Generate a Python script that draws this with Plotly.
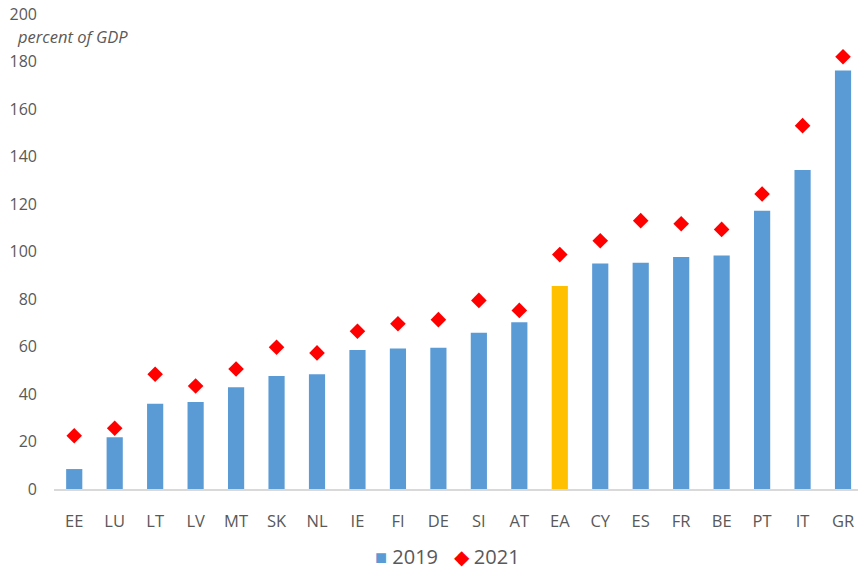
import plotly.graph_objects as go

countries = ["EE", "LU", "LT", "LV", "MT", "SK", "NL", "IE", "FI", "DE",
             "SI", "AT", "EA", "CY", "ES", "FR", "BE", "PT", "IT", "GR"]
debt_2019 = [8.4, 21.8, 35.9, 36.6, 42.8, 47.6, 48.3, 58.5, 59.2, 59.5,
             65.8, 70.2, 85.5, 95.0, 95.3, 97.7, 98.3, 117.2, 134.3, 176.2]
debt_2021 = [22.4, 25.6, 48.3, 43.4, 50.5, 59.7, 57.3, 66.4, 69.6, 71.3,
             79.4, 75.2, 98.7, 104.5, 113.0, 111.7, 109.3, 124.2, 153.0, 182.0]
y_ticks = [0, 20, 40, 60, 80, 100, 120, 140, 160, 180, 200]
series_names = ["2019", "2021"]

BLUE = "#5B9BD5"
GOLD = "#FFC000"
RED = "#FF0000"
TXT = "#595959"
FONT = "'Open Sans', Lato, sans-serif"

bar_colors = [GOLD if c == "EA" else BLUE for c in countries]

fig = go.Figure()
fig.add_trace(go.Bar(x=countries, y=debt_2019, name=series_names[0],
                     marker=dict(color=bar_colors, line=dict(width=0)),
                     showlegend=False))
fig.add_trace(go.Scatter(x=countries, y=debt_2021, name=series_names[1], mode="markers",
                         marker=dict(symbol="diamond", color=RED, size=12,
                                     line=dict(width=0)),
                         showlegend=False))

W_FIG, H_FIG = 858, 570
ML, MT = 54, 14
W_PLOT = W_FIG - ML
H_PLOT = 475

fig.update_layout(
    width=W_FIG, height=H_FIG,
    margin=dict(l=ML, r=0, t=MT, b=H_FIG - MT - H_PLOT, autoexpand=False),
    paper_bgcolor="white", plot_bgcolor="white",
    font=dict(family=FONT, color=TXT, size=15),
    bargap=0.6,
    showlegend=False,
    xaxis=dict(type="category", range=[-0.5, 19.37], showgrid=False,
               showline=True, linecolor="#D9D9D9", linewidth=1.5,
               ticks="", tickfont=dict(size=16.5, color=TXT), automargin=False,
               ticklabelstandoff=16, ticklabeloverflow="allow"),
    yaxis=dict(range=[0, 200], tickvals=y_ticks, showgrid=False, zeroline=False,
               showline=False, ticks="", tickfont=dict(size=16, color=TXT),
               ticklabelstandoff=16, automargin=False, ticklabeloverflow="allow"),
)

fig.add_annotation(text="<i>percent of GDP</i>", xref="paper", yref="paper",
                   x=(15 - ML) / W_PLOT, xanchor="left", y=1 - 23 / H_PLOT, yanchor="middle",
                   showarrow=False, font=dict(size=16.5, color=TXT))

# legend drawn as text entries
fig.add_annotation(
    text=(f"<span style='color:{BLUE}'>■</span> {series_names[0]}"
          f"   <span style='color:{RED}'>◆</span> {series_names[1]}"),
    xref="paper", yref="paper", x=(447.5 - ML) / W_PLOT, xanchor="center",
    y=-(556 - 489) / H_PLOT, yanchor="middle", showarrow=False,
    font=dict(size=20, color=TXT), borderpad=0)

fig.write_html(
    "out.html",
    config={"displayModeBar": False},
    post_script="document.body.style.margin='0';document.body.style.overflow='hidden';",
)
